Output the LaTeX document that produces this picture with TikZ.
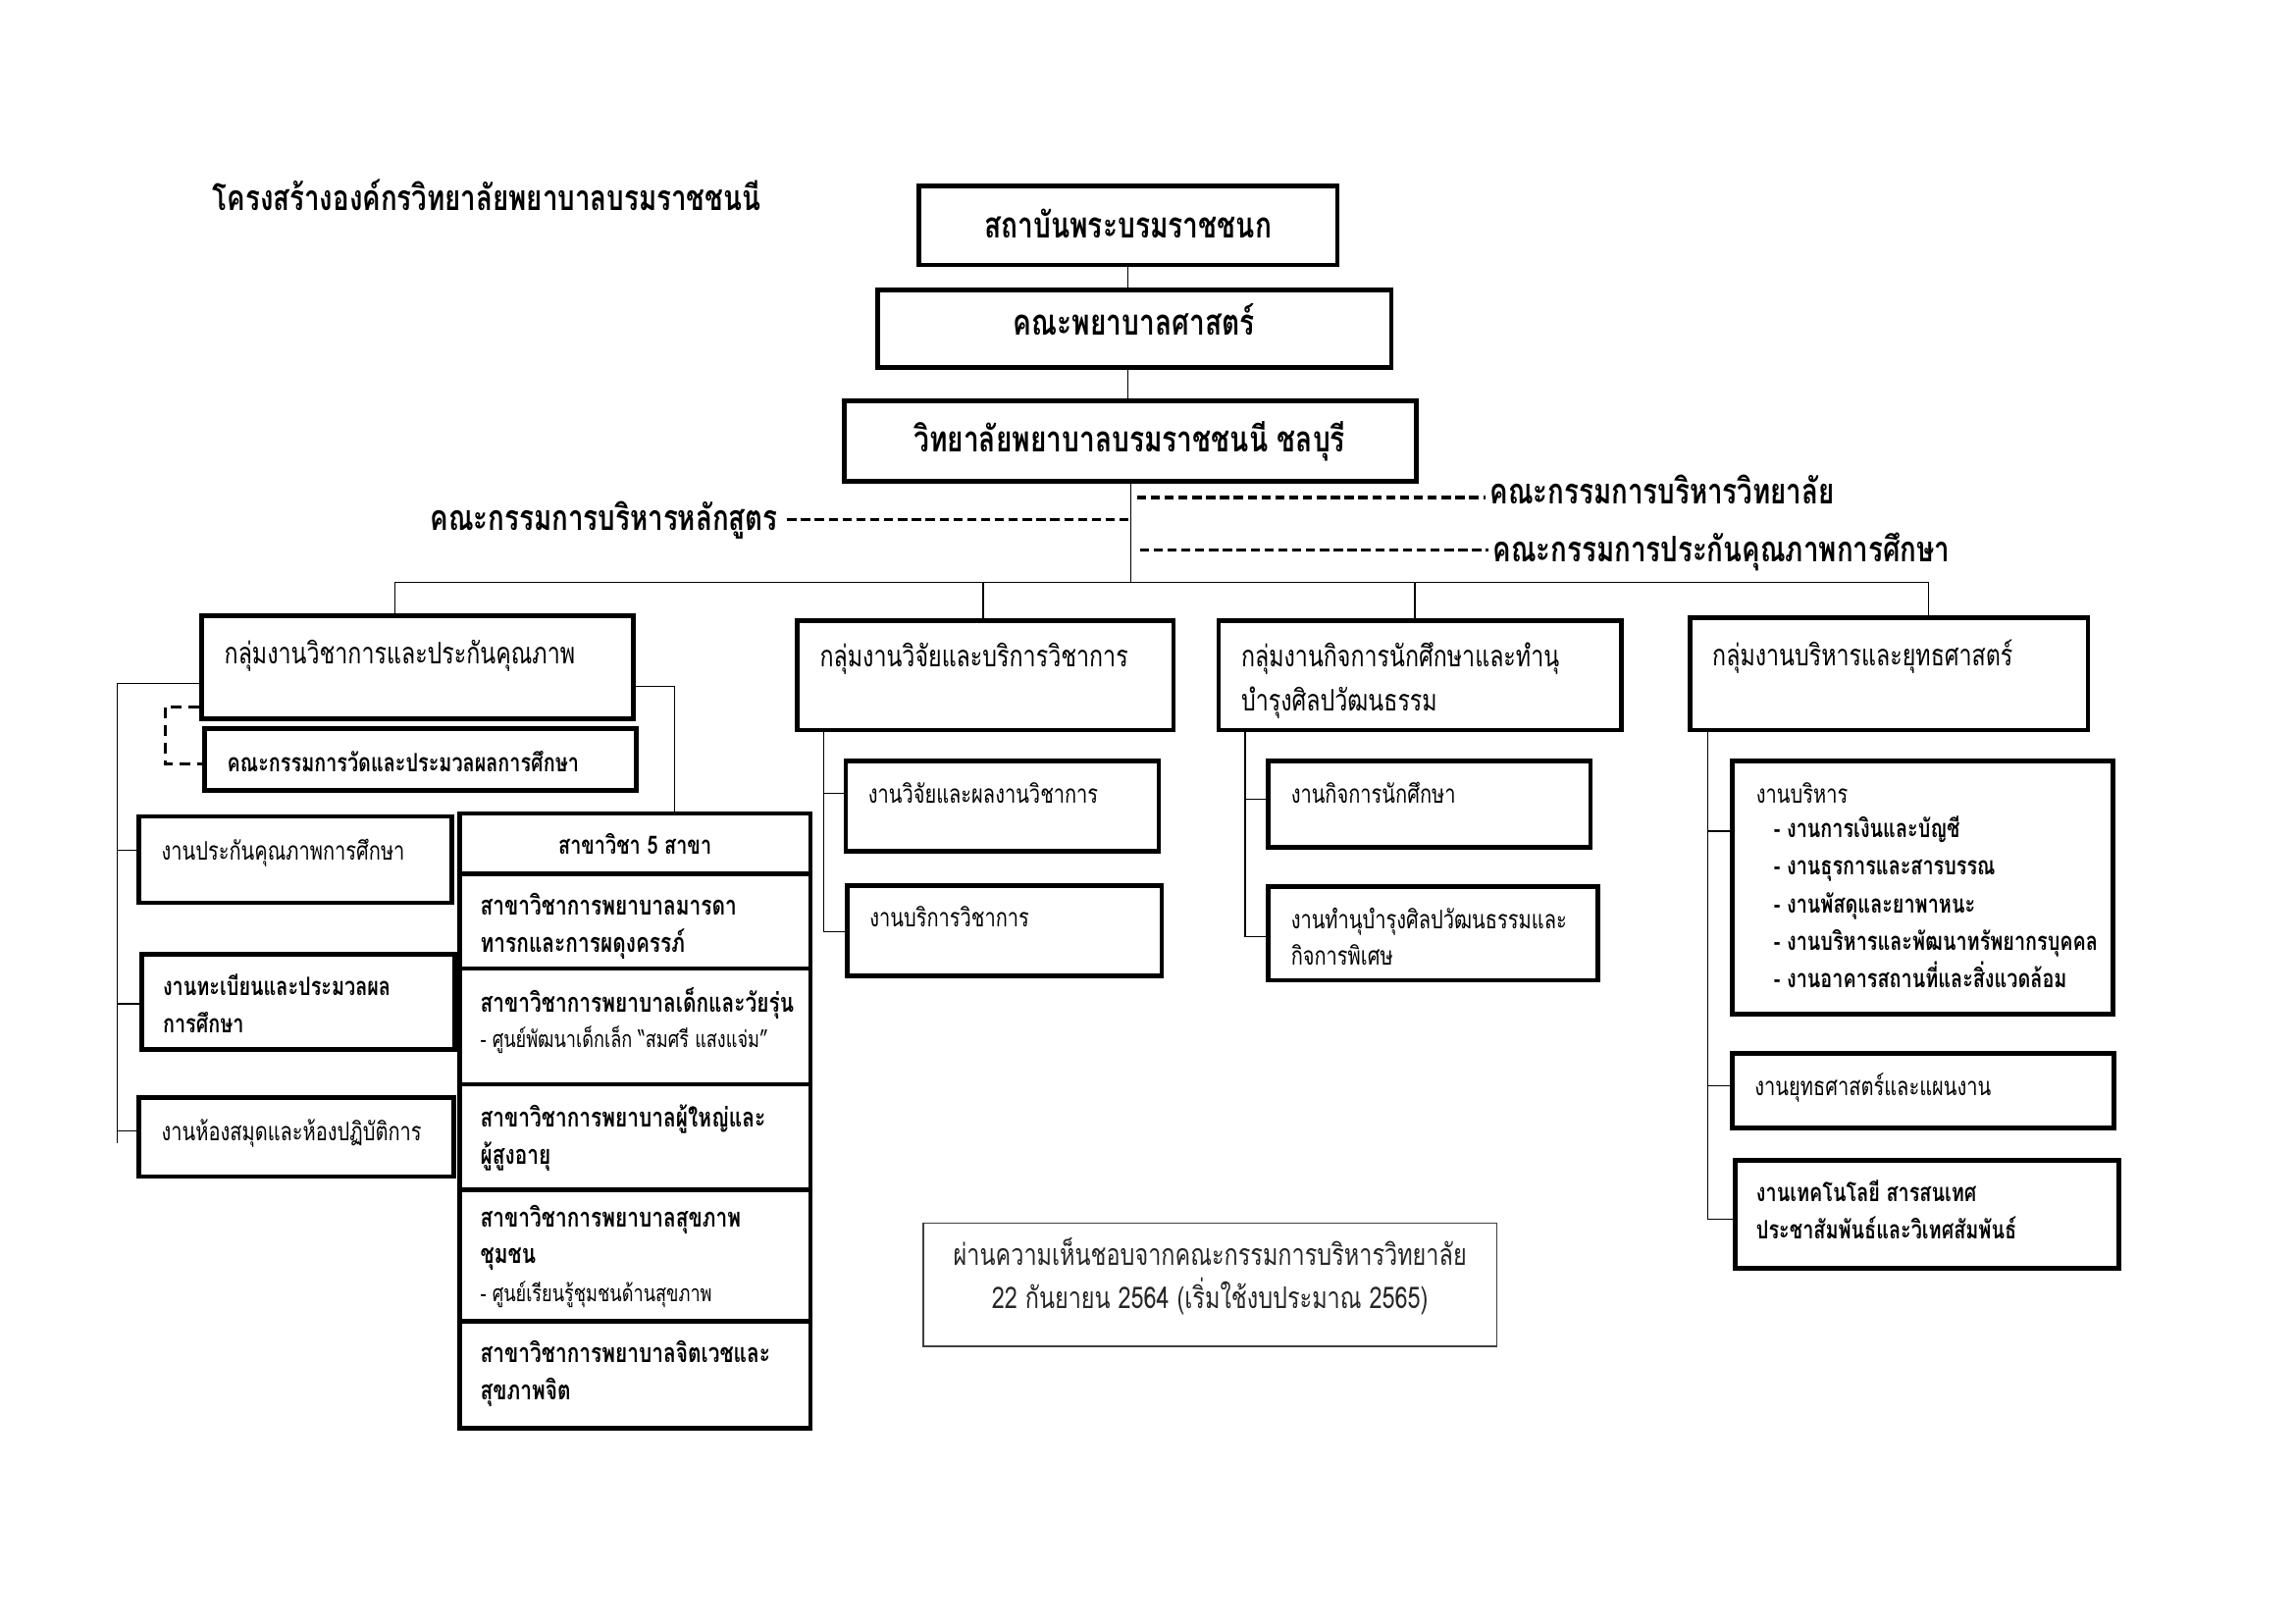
\documentclass[tikz,border=0pt]{standalone}
\usepackage{fontspec}
\newfontfamily\thai[Script=Thai,FakeStretch=0.77]{Loma}
\usetikzlibrary{fit,calc}
\begin{document}
\begin{tikzpicture}[x=0.01894cm,y=-0.01894cm,
  box/.style={draw, line width=1.7pt, inner sep=0pt},
  notebox/.style={draw=black!75, line width=0.5pt, inner sep=0pt},
  conn/.style={line width=0.45pt},
  cdash/.style={line width=1.2pt, dash pattern=on 3.4pt off 1.7pt},
  bdash/.style={line width=1.1pt, dash pattern=on 4pt off 2.5pt},
  txt/.style={font=\thai, inner sep=0pt, anchor=base west, align=left, yshift=-0.07cm},
  big/.style={txt, anchor=base, font=\thai\bfseries\fontsize{13.2}{16}\selectfont},
  comm/.style={txt, font=\thai\bfseries\fontsize{13}{15}\selectfont},
  grp/.style={txt, font=\thai\fontsize{10.9}{16.3}\selectfont},
  sub/.style={txt, font=\thai\fontsize{9.4}{13.6}\selectfont},
  subb/.style={txt, font=\thai\bfseries\fontsize{9.3}{13.6}\selectfont},
  kb/.style={txt, font=\thai\bfseries\fontsize{9.8}{13.6}\selectfont},
  small/.style={txt, font=\thai\fontsize{8.5}{11}\selectfont},
]
\fill[white] (0,0) rectangle (1568.6,1109.4);
\useasboundingbox (0,0) rectangle (1568.6,1109.4);

% title
\node[txt, font=\thai\bfseries\fontsize{13}{16}\selectfont] (title) at (145,140) {โครงสร้างองค์กรวิทยาลัยพยาบาลบรมราชชนนี};

% top boxes
\node[box, fit={(628,127) (914,181)}] (b1) {};
\node[box, fit={(600,198) (951,251)}] (b2) {};
\node[box, fit={(577,274) (968,329)}] (b3) {};
\node[big] (b1t) at (771,159) {สถาบันพระบรมราชชนก};
\node[big] (b2t) at (775,225) {คณะพยาบาลศาสตร์};
\node[big] (b3t) at (772,305) {วิทยาลัยพยาบาลบรมราชชนนี ชลบุรี};
\draw[conn] (b1) -- (b1 |- b2.north);
\draw[conn] (b1 |- b2.south) -- (b1 |- b3.north);

% committees
\coordinate (bus) at (773,398);
\coordinate (jL) at (773,355);
\coordinate (jR1) at (777,340);
\coordinate (jR2) at (779,376);
\node[comm, anchor=base east] (cL) at (532,359) {คณะกรรมการบริหารหลักสูตร};
\node[comm] (cR1) at (1018,341) {คณะกรรมการบริหารวิทยาลัย};
\node[comm] (cR2) at (1020,380) {คณะกรรมการประกันคุณภาพการศึกษา};
\draw[conn] (b3.south -| bus) -- (bus);
\draw[cdash] ($(jL -| cL.east)+(6,0)$) -- (jL);
\draw[cdash] (jR1) -- ($(jR1 -| cR1.west)+(-3,0)$);
\draw[cdash] (jR2) -- ($(jR2 -| cR2.west)+(-3,0)$);

% groups
\node[box, fit={(138,421) (433,491)}] (g1) {};
\node[box, fit={(545,424) (802,499)}] (g2) {};
\node[box, fit={(833,424) (1108,499)}] (g3) {};
\node[box, fit={(1155,422) (1427,499)}] (g4) {};
\node[grp] (g1t) at (153,450) {กลุ่มงานวิชาการและประกันคุณภาพ};
\node[grp] (g2t) at (560,452) {กลุ่มงานวิจัยและบริการวิชาการ};
\node[grp] (g3t) at (848,482) {กลุ่มงานกิจการนักศึกษาและทำนุ\\บำรุงศิลปวัฒนธรรม};
\node[grp] (g4t) at (1170,451) {กลุ่มงานบริหารและยุทธศาสตร์};

\coordinate (h1) at (270,398);
\coordinate (h2) at (672,398);
\coordinate (h3) at (967,398);
\coordinate (h4) at (1318,398);
\draw[conn] (h1) -- (h4);
\draw[conn] (h1) -- (h1 |- g1.north);
\draw[conn] (h2) -- (h2 |- g2.north);
\draw[conn] (h3) -- (h3 |- g3.north);
\draw[conn] (h4) -- (h4 |- g4.north);

% group 1 children
\node[box, fit={(140,498) (435,540)}] (c1) {};
\node[subb] (c1t) at (155,524) {คณะกรรมการวัดและประมวลผลการศึกษา};
\node[box, fit={(95,558) (309,617)}] (s1) {};
\node[box, fit={(97,652) (311,717)}] (s2) {};
\node[box, fit={(95,750) (310,804)}] (s3) {};
\node[sub] (s1t) at (110,584) {งานประกันคุณภาพการศึกษา};
\node[subb] (s2t) at (111,702) {งานทะเบียนและประมวลผล\\การศึกษา};
\node[sub] (s3t) at (110,776) {งานห้องสมุดและห้องปฏิบัติการ};

\coordinate (L1) at (80,467);
\coordinate (L2) at (80,781);
\draw[conn] (g1.west |- L1) -- (L1) -- (L2);
\draw[conn] (L1 |- 0,581) -- (s1.west |- 0,581);
\draw[conn] (L1 |- 0,686) -- (s2.west |- 0,686);
\draw[conn] (L1 |- 0,773) -- (s3.west |- 0,773);

\coordinate (D1) at (113,483);
\coordinate (D2) at (113,522);
\draw[bdash] (g1.west |- D1) -- (D1) -- (D2) -- (D2 -| c1.west);

% stack of 5 branches
\node[box, fit={(314,556) (554,597)}] (k0) {};
\node[box, fit={(314,597) (554,662)}] (k1) {};
\node[box, fit={(314,662) (554,741)}] (k2) {};
\node[box, fit={(314,741) (554,813)}] (k3) {};
\node[box, fit={(314,813) (554,903)}] (k4) {};
\node[box, fit={(314,903) (554,976)}] (k5) {};
\node[subb, anchor=base] (k0t) at (434,580) {สาขาวิชา 5 สาขา};
\node[kb] (k1t) at (328,647) {สาขาวิชาการพยาบาลมารดา\\ทารกและการผดุงครรภ์};
\node[kb] (k2t) at (328,688) {สาขาวิชาการพยาบาลเด็กและวัยรุ่น};
\node[small] (k2s) at (328,712) {- ศูนย์พัฒนาเด็กเล็ก “สมศรี แสงแจ่ม”};
\node[kb] (k3t) at (328,792) {สาขาวิชาการพยาบาลผู้ใหญ่และ\\ผู้สูงอายุ};
\node[kb] (k4t) at (328,860) {สาขาวิชาการพยาบาลสุขภาพ\\ชุมชน};
\node[small] (k4s) at (328,886) {- ศูนย์เรียนรู้ชุมชนด้านสุขภาพ};
\node[kb] (k5t) at (328,953) {สาขาวิชาการพยาบาลจิตเวชและ\\สุขภาพจิต};

\coordinate (R1) at (461,469);
\draw[conn] (g1.east |- R1) -- (R1) -- (R1 |- k0.north);

% group 2 children
\node[box, fit={(578,520) (792,582)}] (r1) {};
\node[box, fit={(579,605) (794,667)}] (r2) {};
\node[sub] (r1t) at (593,545) {งานวิจัยและผลงานวิชาการ};
\node[sub] (r2t) at (594,630) {งานบริการวิชาการ};
\coordinate (S2) at (563,637);
\draw[conn] (S2 |- g2.south) -- (S2) -- (S2 -| r2.west);
\draw[conn] (S2 |- 0,542) -- (r1.west |- 0,542);

% group 3 children
\node[box, fit={(867,520) (1087,579)}] (t1) {};
\node[box, fit={(867,606) (1092,670)}] (t2) {};
\node[sub] (t1t) at (882,545) {งานกิจการนักศึกษา};
\node[sub] (t2t) at (882,656) {งานทำนุบำรุงศิลปวัฒนธรรมและ\\กิจการพิเศษ};
\coordinate (S3) at (851,640);
\draw[conn] (S3 |- g3.south) -- (S3) -- (S3 -| t2.west);
\draw[conn] (S3 |- 0,546) -- (t1.west |- 0,546);

% group 4 children
\node[box, fit={(1184,520) (1444,693)}] (a1) {};
\node[box, fit={(1184,720) (1445,771)}] (a2) {};
\node[box, fit={(1186,793) (1448,867)}] (a3) {};
\node[sub] (a1t) at (1200,545) {งานบริหาร};
\node[subb, font=\thai\bfseries\fontsize{9.3}{13.74}\selectfont] (a1l) at (1212,671) {- งานการเงินและบัญชี\\- งานธุรการและสารบรรณ\\- งานพัสดุและยาพาหนะ\\- งานบริหารและพัฒนาทรัพยากรบุคคล\\- งานอาคารสถานที่และสิ่งแวดล้อม};
\node[sub] (a2t) at (1199,745) {งานยุทธศาสตร์และแผนงาน};
\node[subb] (a3t) at (1200,843) {งานเทคโนโลยี สารสนเทศ\\ประชาสัมพันธ์และวิเทศสัมพันธ์};
\coordinate (S4) at (1167,833);
\draw[conn] (S4 |- g4.south) -- (S4) -- (S4 -| a3.west);
\draw[conn] (S4 |- 0,568) -- (a1.west |- 0,568);
\draw[conn] (S4 |- 0,742) -- (a2.west |- 0,742);

% note
\node[notebox, fit={(631,836) (1023,920)}] (note) {};
\node[font=\thai\fontsize{11}{15.8}\selectfont, inner sep=0pt, align=center, anchor=base, text=black!85, yshift=-0.08cm] (notet) at (827,890) {ผ่านความเห็นชอบจากคณะกรรมการบริหารวิทยาลัย\\22 กันยายน 2564 (เริ่มใช้งบประมาณ 2565)};
\end{tikzpicture}
\end{document}
